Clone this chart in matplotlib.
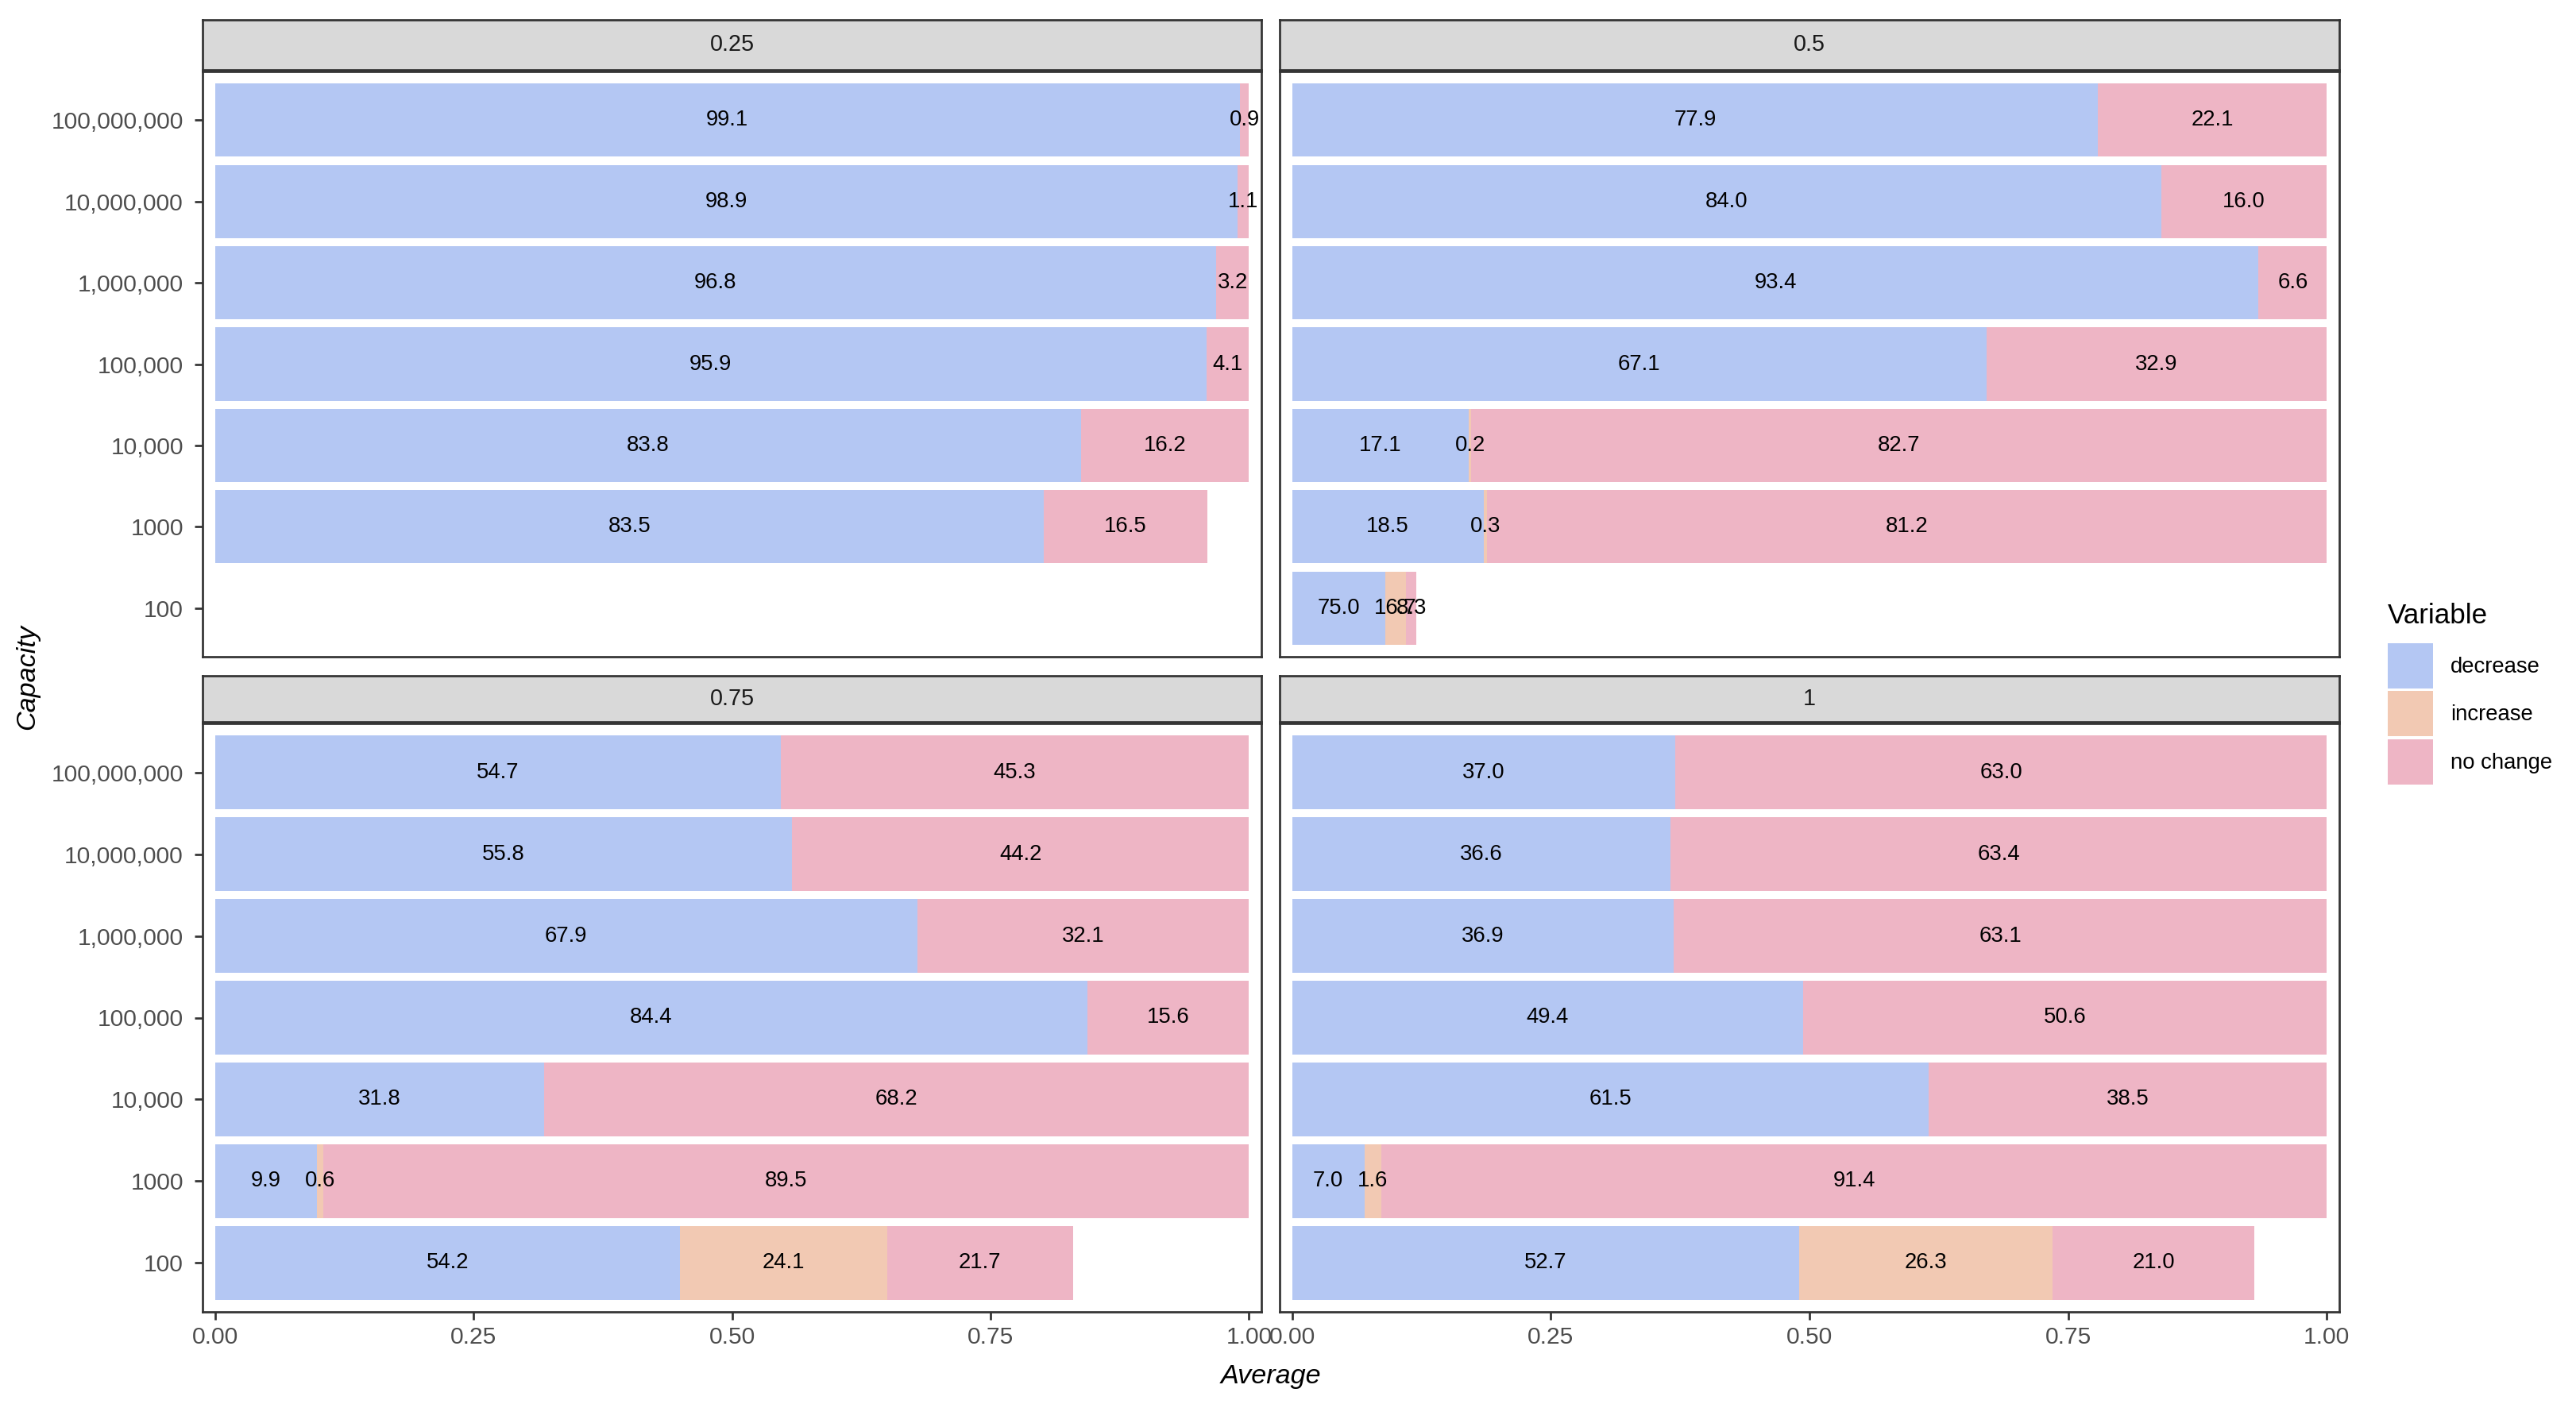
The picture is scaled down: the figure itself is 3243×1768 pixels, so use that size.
import matplotlib.pyplot as plt
from matplotlib.patches import Patch
import numpy as np

plt.rcParams['font.family'] = ['Liberation Sans', 'DejaVu Sans']

# Data (capacity rows from bottom to top)
capacity = ["100", "1000", "10,000", "100,000", "1,000,000", "10,000,000", "100,000,000"]
facets = ["0.25", "0.5", "0.75", "1"]
variables = ["decrease", "increase", "no change"]
colors = ["#B4C7F3", "#F2C9B3", "#EEB5C5"]

# bar length on the Average axis
total_025 = [0.0, 0.96, 1.0, 1.0, 1.0, 1.0, 1.0]
total_05 = [0.12, 1.0, 1.0, 1.0, 1.0, 1.0, 1.0]
total_075 = [0.83, 1.0, 1.0, 1.0, 1.0, 1.0, 1.0]
total_1 = [0.93, 1.0, 1.0, 1.0, 1.0, 1.0, 1.0]

# percent shares shown as labels
dec_025 = [0, 83.5, 83.8, 95.9, 96.8, 98.9, 99.1]
inc_025 = [0, 0, 0, 0, 0, 0, 0]
noc_025 = [0, 16.5, 16.2, 4.1, 3.2, 1.1, 0.9]

dec_05 = [75.0, 18.5, 17.1, 67.1, 93.4, 84.0, 77.9]
inc_05 = [16.7, 0.3, 0.2, 0, 0, 0, 0]
noc_05 = [8.3, 81.2, 82.7, 32.9, 6.6, 16.0, 22.1]

dec_075 = [54.2, 9.9, 31.8, 84.4, 67.9, 55.8, 54.7]
inc_075 = [24.1, 0.6, 0, 0, 0, 0, 0]
noc_075 = [21.7, 89.5, 68.2, 15.6, 32.1, 44.2, 45.3]

dec_1 = [52.7, 7.0, 61.5, 49.4, 36.9, 36.6, 37.0]
inc_1 = [26.3, 1.6, 0, 0, 0, 0, 0]
noc_1 = [21.0, 91.4, 38.5, 50.6, 63.1, 63.4, 63.0]

totals = {"0.25": total_025, "0.5": total_05, "0.75": total_075, "1": total_1}
shares = {"0.25": [dec_025, inc_025, noc_025],
          "0.5": [dec_05, inc_05, noc_05],
          "0.75": [dec_075, inc_075, noc_075],
          "1": [dec_1, inc_1, noc_1]}

W, H = 3243, 1768
fig = plt.figure(figsize=(W / 300, H / 300), dpi=300)

def rect(x0, x1, y0, y1):
    return [x0 / W, 1 - y1 / H, (x1 - x0) / W, (y1 - y0) / H]

cols = [(255, 1588), (1611, 2945)]
rows = [((25, 88), (90, 827)), ((851, 909), (911, 1652))]
border = "#333333"
lw = 0.65

y = np.arange(len(capacity))
for k, fac in enumerate(facets):
    r, c = divmod(k, 2)
    (sy0, sy1), (py0, py1) = rows[r]
    x0, x1 = cols[c]
    ax = fig.add_axes(rect(x0, x1, py0, py1))
    st = fig.add_axes(rect(x0, x1, sy0, sy1))

    tot = np.array(totals[fac])
    left = np.zeros(len(capacity))
    for v, col in enumerate(colors):
        pct = np.array(shares[fac][v], dtype=float)
        wid = tot * pct / 100
        ax.barh(y, wid, left=left, height=0.9, color=col, linewidth=0)
        for i in range(len(capacity)):
            if pct[i] > 0:
                ax.text(left[i] + wid[i] / 2, y[i], f"{pct[i]:.1f}", ha="center",
                        va="center", fontsize=6.6, color="black")
        left = left + wid

    ax.set_xlim(-0.012, 1.012)
    ax.set_ylim(-0.6, len(capacity) - 0.4)
    ax.set_xticks([0, 0.25, 0.5, 0.75, 1.0])
    ax.set_xticklabels(["0.00", "0.25", "0.50", "0.75", "1.00"])
    ax.set_yticks(y)
    ax.set_yticklabels(capacity)
    ax.tick_params(axis="both", length=2.4, width=lw, color=border,
                   labelsize=7.2, labelcolor="#4D4D4D")
    ax.tick_params(axis="x", pad=2.0)
    ax.tick_params(axis="y", pad=3.4)
    if c == 1:
        ax.tick_params(axis="y", left=False, labelleft=False)
    if r == 0:
        ax.tick_params(axis="x", bottom=False, labelbottom=False)
    for s in ax.spines.values():
        s.set_color(border)
        s.set_linewidth(lw)

    st.set_facecolor("#D9D9D9")
    st.set_xticks([])
    st.set_yticks([])
    for s in st.spines.values():
        s.set_color(border)
        s.set_linewidth(lw)
    st.text(0.5, 0.5, fac, transform=st.transAxes, ha="center", va="center",
            fontsize=6.9, color="#1A1A1A")

fig.text(1600 / W, 1 - 1742 / H, "Average", ha="center", va="baseline",
         fontsize=8.2, style="italic")
fig.text(43 / W, 1 - 852 / H, "Capacity", rotation=90, rotation_mode="anchor",
         ha="center", va="baseline", fontsize=8.2, style="italic")

fig.text(3006 / W, 1 - 785 / H, "Variable", ha="left", va="baseline", fontsize=8.4)
handles = [Patch(facecolor=col, edgecolor="none") for col in colors]
fig.legend(handles, variables, loc="upper left",
           bbox_to_anchor=(3006 / W, 1 - 810 / H), frameon=False,
           fontsize=6.6, handlelength=2.073, handleheight=2.81,
           labelspacing=0.127, handletextpad=0.8, borderpad=0, borderaxespad=0)

fig.savefig("out.png", dpi=300)
